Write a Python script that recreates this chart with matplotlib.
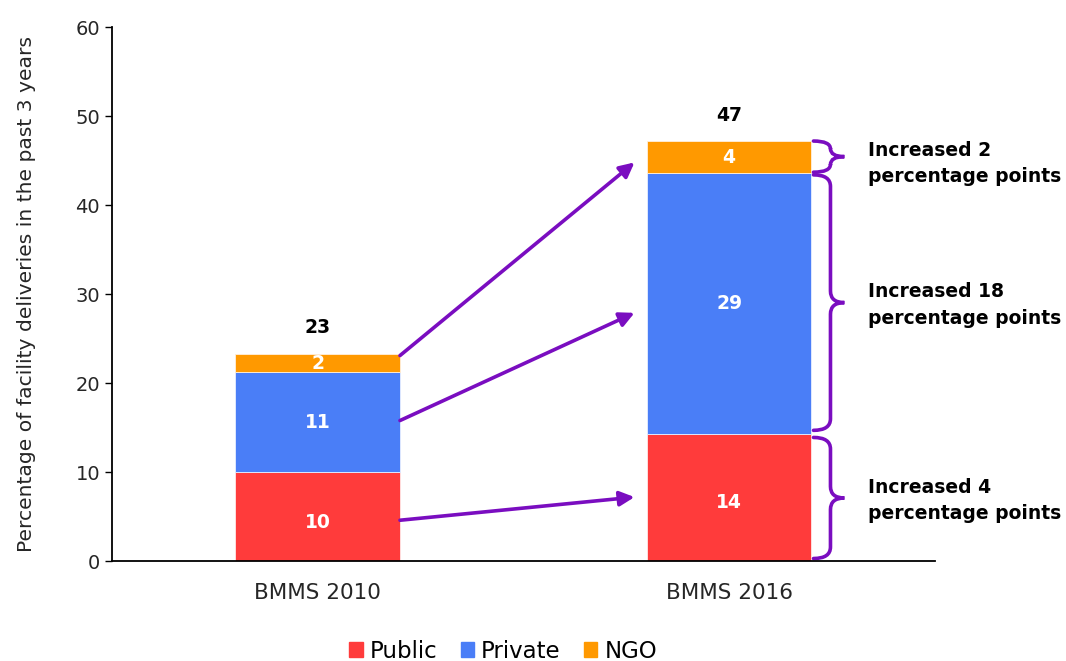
import matplotlib
matplotlib.use("Agg")
import matplotlib.pyplot as plt
from matplotlib.path import Path
from matplotlib.patches import PathPatch, Patch

plt.rcParams['font.family'] = ['DejaVu Sans']

categories = ["BMMS 2010", "BMMS 2016"]
public = [10.0, 14.3]
private = [11.2, 29.3]
ngo = [2.1, 3.6]
public_labels = ["10", "14"]
private_labels = ["11", "29"]
ngo_labels = ["2", "4"]
total_labels = ["23", "47"]
brace_texts = ["Increased 2\npercentage points",
               "Increased 18\npercentage points",
               "Increased 4\npercentage points"]

c_pub = "#FF3B3B"
c_pri = "#4A7EF7"
c_ngo = "#FF9900"
purple = "#7A0DC0"
txt_gray = "#262626"

fig = plt.figure(figsize=(10.66, 6.61), dpi=100)
ax = fig.add_axes([0.105, 0.151, 0.772, 0.808])

x = list(range(len(categories)))
w = 0.4
ax.bar(x, public, w, color=c_pub, edgecolor="#FFE8E8", linewidth=0.6, label="Public")
ax.bar(x, private, w, bottom=public, color=c_pri, edgecolor="#E8EEFF", linewidth=0.6,
       label="Private")
bot3 = [p + q for p, q in zip(public, private)]
ax.bar(x, ngo, w, bottom=bot3, color=c_ngo, edgecolor="#FFF0DD", linewidth=0.6, label="NGO")
tops = [a + b for a, b in zip(bot3, ngo)]

for i in x:
    ax.text(i, public[i] / 2 - 0.6, public_labels[i], color="white", fontsize=13.5,
            fontweight="bold", ha="center", va="center")
    ax.text(i, public[i] + private[i] / 2, private_labels[i], color="white", fontsize=13.5,
            fontweight="bold", ha="center", va="center")
    ax.text(i, bot3[i] + ngo[i] / 2, ngo_labels[i], color="white", fontsize=13.5,
            fontweight="bold", ha="center", va="center")
    ax.text(i, tops[i] + 2.9, total_labels[i], color="black", fontsize=13.5,
            fontweight="bold", ha="center", va="center")

# arrows from 2010 segments to 2016 segments
arrows = [((0.2, 23.1), (0.77, 44.8)),
          ((0.2, 15.8), (0.77, 27.9)),
          ((0.2, 4.6), (0.77, 7.2))]
for (s, e) in arrows:
    ax.annotate("", xy=e, xytext=s,
                arrowprops=dict(arrowstyle="-|>", color=purple, lw=2.6,
                                mutation_scale=22, shrinkA=0, shrinkB=0))


def brace(ax, x0, y0, y1, width, r):
    xm = x0 + width * 0.55
    xt = x0 + width
    ym = (y0 + y1) / 2
    verts = [(x0, y0), (xm, y0), (xm, y0 + r),
             (xm, ym - r), (xm, ym), (xt, ym),
             (xm, ym), (xm, ym + r),
             (xm, y1 - r), (xm, y1), (x0, y1)]
    codes = [Path.MOVETO, Path.CURVE3, Path.CURVE3,
             Path.LINETO, Path.CURVE3, Path.CURVE3,
             Path.CURVE3, Path.CURVE3,
             Path.LINETO, Path.CURVE3, Path.CURVE3]
    ax.add_patch(PathPatch(Path(verts, codes), facecolor="none", edgecolor=purple,
                           lw=2.6, clip_on=False, capstyle="round"))


bx = 1.2 + 0.005
brace(ax, bx, bot3[1] + 0.1, tops[1], 0.075, 0.9)
brace(ax, bx, public[1] + 0.4, bot3[1] - 0.2, 0.075, 1.3)
brace(ax, bx, 0.3, public[1] - 0.4, 0.075, 1.3)

text_y = [44.7, 28.8, 6.8]
for t, ty in zip(brace_texts, text_y):
    ax.text(1.337, ty, t, fontsize=13.5, fontweight="bold", ha="left", va="center",
            linespacing=1.5, clip_on=False)

ax.set_xlim(-0.5, 1.5)
ax.set_ylim(0, 60)
ax.set_yticks(range(0, 61, 10))
ax.set_xticks(x)
ax.set_xticklabels(categories, fontsize=15.5, color=txt_gray)
ax.tick_params(axis="y", labelsize=14, direction="out", length=5, width=1,
               labelcolor=txt_gray)
ax.tick_params(axis="x", length=0, pad=16)
for s in ["top", "right"]:
    ax.spines[s].set_visible(False)
ax.spines["left"].set_linewidth(1.3)
ax.spines["bottom"].set_linewidth(1.3)
ax.set_ylabel("Percentage of facility deliveries in the past 3 years", fontsize=14.6,
              labelpad=28, color=txt_gray)

fig.legend(handles=[Patch(color=c_pub, label="Public"), Patch(color=c_pri, label="Private"),
                    Patch(color=c_ngo, label="NGO")],
           loc="center", bbox_to_anchor=(0.472, 0.015), ncol=3, frameon=False,
           fontsize=16.5, handlelength=0.6, handleheight=0.6, handletextpad=0.3,
           columnspacing=1.0)

fig.savefig("out.png", dpi=100)
